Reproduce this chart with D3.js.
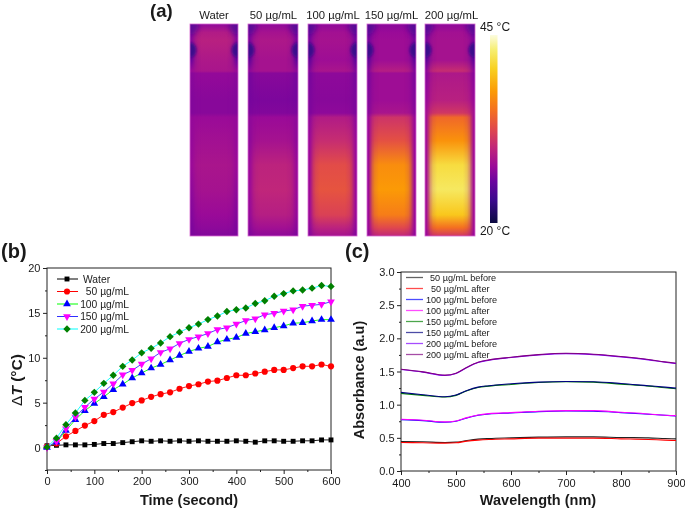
<!DOCTYPE html>
<html><head><meta charset="utf-8">
<script src="https://cdnjs.cloudflare.com/ajax/libs/d3/7.8.5/d3.min.js"></script>
<style>
html,body{margin:0;background:#fff}
svg{display:block;filter:blur(.5px)}
text{font-family:"Liberation Sans",Arial,sans-serif;fill:#1a1a1a}
</style></head><body>
<svg id="c" width="685" height="510"></svg>
<script>
// ---------- Panel (a): thermal heat values (0 = 20 °C, 1 = 45 °C)
const panelNames = ["Water","50 µg/mL","100 µg/mL","150 µg/mL","200 µg/mL"];
const heatRows = [0,.04,.08,.17,.222,.232,.36,.42,.44,.55,.665,.78,.9,.96,1];
const heatCenter = [
 [.28,.36,.38,.35,.34,.29,.27,.27,.30,.32,.34,.33,.30,.28,.26],
 [.28,.33,.35,.33,.33,.27,.25,.26,.30,.33,.39,.40,.37,.32,.28],
 [.28,.32,.33,.31,.34,.28,.27,.28,.36,.42,.51,.53,.48,.39,.33],
 [.27,.30,.31,.31,.37,.31,.31,.34,.44,.52,.67,.70,.63,.50,.40],
 [.28,.32,.33,.33,.42,.35,.38,.45,.58,.68,.86,.90,.80,.60,.45]];
const heatEdge = [
 [.24,.26,.27,.22,.30,.27,.26,.26,.29,.29,.30,.28,.26,.25,.25],
 [.22,.24,.25,.20,.28,.24,.24,.25,.28,.28,.30,.30,.29,.27,.25],
 [.20,.22,.24,.20,.26,.24,.25,.25,.28,.30,.30,.30,.30,.28,.26],
 [.20,.22,.24,.20,.26,.25,.26,.27,.30,.30,.30,.30,.30,.30,.28],
 [.22,.24,.25,.20,.28,.27,.30,.33,.32,.32,.32,.32,.32,.32,.30]];
const heatColors = ["#0a0a40","#3a0a8c","#6a049e","#9a0a98","#c0267a","#e0484c","#f47020","#fb9a06","#f8d020","#f6ee70","#fcfce0"];
const heatDomain = [0,.12,.22,.3,.4,.5,.6,.7,.82,.92,1];

// ---------- Panel (b)
const timeS = [0,20,40,60,80,100,120,140,160,180,200,220,240,260,280,300,320,340,360,380,400,420,440,460,480,500,520,540,560,580,600];
const dTWater = [.2,.25,.3,.3,.3,.35,.45,.45,.55,.65,.75,.7,.75,.7,.75,.7,.75,.7,.7,.7,.75,.7,.6,.75,.75,.7,.7,.75,.75,.85,.85];
const dT50 = [.1,.45,1.25,1.85,2.45,2.95,3.65,3.95,4.45,4.95,5.25,5.65,5.95,6.15,6.55,6.85,7.05,7.35,7.45,7.75,8.05,8.05,8.25,8.45,8.65,8.65,8.85,9.05,9.05,9.25,9.05];
const dT100 = [0,.6,1.9,3.1,4.1,4.9,5.65,6.45,7.05,7.75,8.3,8.85,9.25,9.75,10.25,10.7,11.05,11.25,11.75,12.05,12.25,12.7,12.9,13.1,13.35,13.55,13.85,13.9,14.1,14.25,14.25];
const dT150 = [0,.7,2.1,3.4,4.5,5.4,6.2,7.1,8.1,8.6,9.3,9.9,10.6,11,11.6,12.05,12.35,12.7,13.15,13.35,13.75,14.15,14.35,14.8,14.95,15.2,15.35,15.75,15.85,15.95,16.25];
const dT200 = [.05,1.05,2.55,3.85,5.25,6.15,7.15,8.05,9.05,9.75,10.55,11.05,11.65,12.35,12.85,13.35,13.75,14.25,14.65,15.15,15.35,15.55,16.05,16.35,16.85,17.15,17.45,17.55,17.75,18.05,17.95];
const bLabels = ["Water","50 µg/mL","100 µg/mL","150 µg/mL","200 µg/mL"];
const bLineColors = ["#000000","#ff0000","#00ff00","#3030ff","#00ffff"];
const bMarkColors = ["#000000","#ff0000","#0000ff","#ff00ff","#008000"];

// ---------- Panel (c)
const waveNm = [400,440,480,500,520,540,560,600,650,700,750,800,850,880,900];
const a50b = [.445,.44,.43,.435,.46,.48,.49,.50,.51,.515,.515,.505,.50,.49,.485];
const a50a = [.43,.425,.42,.425,.45,.465,.475,.485,.495,.495,.495,.485,.475,.465,.46];
const a100b = [.775,.76,.735,.75,.80,.84,.86,.875,.895,.905,.90,.88,.855,.84,.83];
const a100a = [.78,.765,.74,.755,.805,.845,.865,.88,.90,.91,.91,.885,.86,.84,.835];
const a150b = [1.17,1.14,1.115,1.14,1.21,1.26,1.28,1.305,1.335,1.345,1.34,1.31,1.28,1.255,1.24];
const a150a = [1.185,1.15,1.12,1.145,1.215,1.265,1.285,1.315,1.34,1.35,1.345,1.32,1.285,1.265,1.25];
const a200b = [1.53,1.49,1.44,1.47,1.56,1.635,1.67,1.71,1.75,1.77,1.755,1.72,1.675,1.64,1.62];
const a200a = [1.535,1.495,1.445,1.475,1.565,1.64,1.675,1.715,1.755,1.775,1.76,1.725,1.68,1.645,1.625];
const cLabels = ["50 µg/mL before","50 µg/mL after","100 µg/mL before","100 µg/mL after","150 µg/mL before","150 µg/mL after","200 µg/mL before","200 µg/mL after"];
const cColors = ["#222222","#ff0000","#0000ff","#ff00ff","#008000","#000080","#8000ff","#800080"];

const svg = d3.select("#c");
const defs = svg.append("defs");
const heat = d3.scaleLinear().domain(heatDomain).range(heatColors).interpolate(d3.interpolateRgb);

// ----- (a) panels
const panelX = d3.scaleOrdinal().domain(panelNames).range([190,248,308,367,425]);
const panelW = d3.scaleOrdinal().domain(panelNames).range([48,50,49,49,50]);
const panelY = d3.scaleLinear().domain([0,1]).range([24,236]);
const edgeMask = defs.append("linearGradient").attr("id","edgeMaskG");
[[0,1],[.03,1],[.07,.7],[.11,.35],[.16,.12],[.24,0],[.76,0],[.84,.12],[.89,.35],[.93,.7],[.97,1],[1,1]]
 .forEach(s=>edgeMask.append("stop").attr("offset",s[0]).attr("stop-color","#fff").attr("stop-opacity",s[1]));
defs.append("mask").attr("id","edgeMask").attr("maskContentUnits","objectBoundingBox")
 .append("rect").attr("width",1).attr("height",1).attr("fill","url(#edgeMaskG)");
defs.append("filter").attr("id","soft").attr("x","-50%").attr("y","-50%").attr("width","200%").attr("height","200%")
 .append("feGaussianBlur").attr("stdDeviation",1.6);
defs.append("filter").attr("id","softer").attr("x","-50%").attr("y","-50%").attr("width","200%").attr("height","200%")
 .append("feGaussianBlur").attr("stdDeviation",2.4);
function vGrad(id,vals){
  const g=defs.append("linearGradient").attr("id",id).attr("x2",0).attr("y2",1);
  heatRows.forEach((r,i)=>g.append("stop").attr("offset",r).attr("stop-color",heat(vals[i])));
}
panelNames.forEach((n,i)=>{
  vGrad("gc"+i,heatCenter[i]); vGrad("ge"+i,heatEdge[i]);
  const x=panelX(n),w=panelW(n),y0=panelY(0),h=panelY(1)-panelY(0);
  defs.append("clipPath").attr("id","cp"+i).append("rect").attr("x",x).attr("y",y0).attr("width",w).attr("height",h);
  const g=svg.append("g").attr("clip-path",`url(#cp${i})`);
  g.append("rect").attr("x",x).attr("y",y0).attr("width",w).attr("height",h).attr("fill",`url(#gc${i})`);
  g.append("rect").attr("x",x).attr("y",y0).attr("width",w).attr("height",h).attr("fill",`url(#ge${i})`).attr("mask","url(#edgeMask)");
  [x,x+w].forEach(cx=>g.append("ellipse").attr("cx",cx).attr("cy",panelY(.123)).attr("rx",6.5).attr("ry",7.5)
    .attr("fill",heat(.12)).attr("filter","url(#soft)"));
  [x,x+w].forEach(cx=>g.append("ellipse").attr("cx",cx).attr("cy",panelY(.01)).attr("rx",9).attr("ry",9)
    .attr("fill",heat(.17)).attr("opacity",.7).attr("filter","url(#softer)"));
  svg.append("rect").attr("x",x).attr("y",y0).attr("width",w).attr("height",h).attr("fill","none").attr("stroke","#d868d0").attr("stroke-width",.8);
  svg.append("text").attr("x",x+w/2+(i==1?.5:(i==2?.5:(i==4?1.5:0)))).attr("y",19).attr("text-anchor","middle").attr("font-size",11.3).text(n);
});
// colour bar
const cb = defs.append("linearGradient").attr("id","cbar").attr("x2",0).attr("y1",1).attr("y2",0);
heatDomain.forEach((d,i)=>cb.append("stop").attr("offset",d).attr("stop-color",heatColors[i]));
svg.append("rect").attr("x",490).attr("y",35).attr("width",7.5).attr("height",188).attr("fill","url(#cbar)");
svg.append("text").attr("x",495).attr("y",31).attr("text-anchor","middle").attr("font-size",12).text("45 °C");
svg.append("text").attr("x",495).attr("y",235).attr("text-anchor","middle").attr("font-size",12).text("20 °C");

function letter(t,x,y,fs){svg.append("text").attr("x",x).attr("y",y).attr("font-size",fs).attr("font-weight","bold").text(t);}
letter("(a)",150,17,18.5); letter("(b)",1,258,20); letter("(c)",345,258,20);

function axes(g,x,y,xT,xM,yT,yM,yFmt,pad){
  const [x0,x1]=x.range(),[y0,y1]=y.range();
  g.append("rect").attr("x",x0).attr("y",y1).attr("width",x1-x0).attr("height",y0-y1).attr("fill","none").attr("stroke","#222").attr("stroke-width",1);
  const ax=g.append("g").attr("transform",`translate(0,${y0})`).call(d3.axisBottom(x).tickValues(xT).tickSize(4).tickPadding(pad).tickFormat(d3.format("d")));
  const axm=g.append("g").attr("transform",`translate(0,${y0})`).call(d3.axisBottom(x).tickValues(xM).tickSize(2).tickFormat(""));
  const ay=g.append("g").attr("transform",`translate(${x0},0)`).call(d3.axisLeft(y).tickValues(yT).tickSize(4).tickPadding(2.5).tickFormat(yFmt));
  const aym=g.append("g").attr("transform",`translate(${x0},0)`).call(d3.axisLeft(y).tickValues(yM).tickSize(2).tickFormat(""));
  [ax,axm,ay,aym].forEach(a=>{a.select(".domain").remove();a.selectAll("line").attr("stroke","#222");
    a.selectAll("text").attr("font-size",11).attr("font-family",'"Liberation Sans",Arial,sans-serif').attr("fill","#1a1a1a");});
}

// ----- (b)
const xb=d3.scaleLinear().domain([0,600]).range([47,331]);
const yb=d3.scaleLinear().domain([-2.5,20]).range([470,268]);
const gb=svg.append("g");
axes(gb,xb,yb,d3.range(0,601,100),d3.range(50,600,100),[0,5,10,15,20],[-2.5,2.5,7.5,12.5,17.5],d3.format("d"),3);
const bSeries=[dTWater,dT50,dT100,dT150,dT200];
const bSyms=[d3.symbolSquare,d3.symbolCircle,d3.symbolTriangle,d3.symbolTriangle,d3.symbolSquare];
const bSize=[24,30,26,26,27];
const bRot=[0,0,0,180,45];
const lineB=d3.line().x((d,i)=>xb(timeS[i])).y(d=>yb(d));
function marker(g,i,x,y){
  g.append("path").attr("d",d3.symbol(bSyms[i],bSize[i])()).attr("fill",bMarkColors[i])
   .attr("transform",`translate(${x},${y}) rotate(${bRot[i]})`);
}
bSeries.forEach((s,i)=>{
  const g=gb.append("g");
  g.append("path").attr("d",lineB(s)).attr("fill","none").attr("stroke",bLineColors[i]).attr("stroke-width",.9);
  s.forEach((v,j)=>marker(g,i,xb(timeS[j]),yb(v)));
});
const legB=d3.scaleLinear().domain([0,4]).range([279,329]);
bLabels.forEach((t,i)=>{
  const y=legB(i);
  gb.append("line").attr("x1",57).attr("x2",78).attr("y1",y).attr("y2",y).attr("stroke",bLineColors[i]).attr("stroke-width",1);
  marker(gb,i,67,y);
  const tx=gb.append("text").attr("y",y+3.7).attr("font-size",10.3).text(t);
  if(i==0) tx.attr("x",83); else tx.attr("x",129).attr("text-anchor","end");
});
gb.append("text").attr("x",189).attr("y",505).attr("text-anchor","middle").attr("font-size",14.5).attr("font-weight","bold").text("Time (second)");
const ylab=gb.append("text").attr("transform","translate(22,380) rotate(-90)").attr("text-anchor","middle").attr("font-size",15.5).attr("font-weight","bold");
ylab.append("tspan").attr("font-weight","normal").text("Δ");
ylab.append("tspan").attr("font-style","italic").text("T");
ylab.append("tspan").text(" (°C)");

// ----- (c)
const xc=d3.scaleLinear().domain([400,900]).range([401,676]);
const yc=d3.scaleLinear().domain([0,3]).range([471,272]);
const gc=svg.append("g");
axes(gc,xc,yc,d3.range(400,901,100),d3.range(450,900,100),d3.range(0,3.01,.5),d3.range(.25,3,.5),d3.format(".1f"),4.5);
const cSeries=[a50b,a50a,a100b,a100a,a150b,a150a,a200b,a200a];
const lineC=d3.line().curve(d3.curveMonotoneX).x((d,i)=>xc(waveNm[i])).y(d=>yc(d));
cSeries.forEach((s,i)=>gc.append("path").attr("d",lineC(s)).attr("fill","none").attr("stroke",cColors[i]).attr("stroke-width",1.1));
const legC=d3.scaleLinear().domain([0,7]).range([277.5,354.5]);
const cTextX=[430,431,426,426,426,426,426,426];
cLabels.forEach((t,i)=>{
  const y=legC(i);
  gc.append("line").attr("x1",406).attr("x2",423).attr("y1",y).attr("y2",y).attr("stroke",cColors[i]).attr("stroke-width",1.3).attr("opacity",.7);
  gc.append("text").attr("x",cTextX[i]).attr("y",y+3.3).attr("font-size",9.1).text(t);
});
gc.append("text").attr("x",538).attr("y",505).attr("text-anchor","middle").attr("font-size",14.5).attr("font-weight","bold").text("Wavelength (nm)");
gc.append("text").attr("transform","translate(364,380) rotate(-90)").attr("text-anchor","middle").attr("font-size",14.5).attr("font-weight","bold").text("Absorbance (a.u)");
</script>
</body></html>
